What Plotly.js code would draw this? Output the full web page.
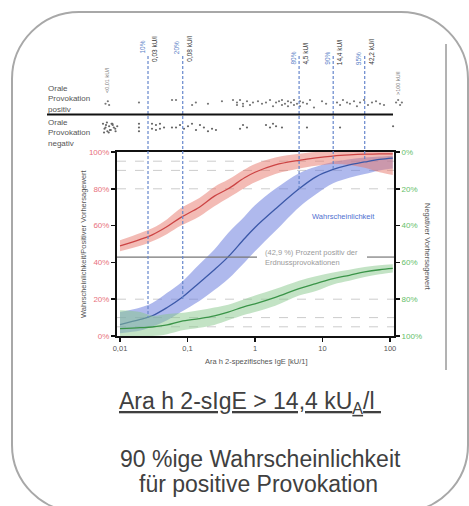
<!DOCTYPE html>
<html><head><meta charset="utf-8">
<script src="https://cdn.plot.ly/plotly-3.0.1.min.js"></script>
<style>
html,body{margin:0;padding:0;background:#fff;width:469px;height:506px;overflow:hidden;}
#frame{position:absolute;left:11px;top:11px;width:458px;height:502px;border:2px solid #a8a8a8;border-radius:68px;box-sizing:border-box;}
#chart{position:absolute;left:0;top:0;width:469px;height:506px;}
</style></head><body>
<div id="frame"></div>
<div id="chart"></div>
<script>
// ---------- data ----------
const igeGrid  = [0.01, 0.02, 0.03, 0.05, 0.08, 0.15, 0.25, 0.4, 0.7, 1, 2, 4.5, 8, 14.4, 25, 42.2, 70, 110];
// positive predictive value (red, left axis)
const ppv      = [0.49, 0.525, 0.55, 0.595, 0.645, 0.70, 0.76, 0.80, 0.86, 0.89, 0.93, 0.955, 0.968, 0.978, 0.984, 0.988, 0.99, 0.99];
const ppvLow   = [0.46, 0.49, 0.515, 0.555, 0.60, 0.65, 0.705, 0.75, 0.805, 0.835, 0.88, 0.91, 0.925, 0.935, 0.93, 0.915, 0.89, 0.875];
const ppvHigh  = [0.52, 0.56, 0.585, 0.635, 0.695, 0.75, 0.81, 0.85, 0.905, 0.935, 0.97, 0.99, 1.0, 1.0, 1.0, 1.0, 1.0, 1.0];
// probability of positive challenge (blue, left axis)
const prob     = [0.062, 0.09, 0.11, 0.155, 0.205, 0.29, 0.36, 0.43, 0.53, 0.59, 0.69, 0.80, 0.865, 0.905, 0.93, 0.946, 0.96, 0.967];
const probLow  = [0.015, 0.03, 0.05, 0.085, 0.13, 0.19, 0.25, 0.31, 0.40, 0.46, 0.57, 0.70, 0.77, 0.83, 0.86, 0.88, 0.90, 0.91];
const probHigh = [0.13, 0.155, 0.18, 0.235, 0.29, 0.39, 0.47, 0.56, 0.65, 0.71, 0.80, 0.885, 0.92, 0.945, 0.96, 0.97, 0.975, 0.98];
// negative predictive value (green, right axis, reversed)
const npv      = [0.96, 0.955, 0.951, 0.94, 0.92, 0.905, 0.89, 0.87, 0.84, 0.825, 0.79, 0.742, 0.715, 0.688, 0.67, 0.652, 0.64, 0.633];
const npvLow   = [0.86, 0.87, 0.89, 0.88, 0.875, 0.86, 0.845, 0.83, 0.80, 0.78, 0.745, 0.70, 0.675, 0.655, 0.64, 0.625, 0.615, 0.61];
const npvHigh  = [1.0, 1.0, 1.0, 0.99, 0.97, 0.955, 0.94, 0.915, 0.885, 0.87, 0.835, 0.78, 0.755, 0.72, 0.70, 0.68, 0.665, 0.655];

// cut-offs (blue curve probability thresholds)
const thresholdIgE      = [0.026, 0.085, 4.5, 14.4, 42.2];
const thresholdProb     = [0.10, 0.20, 0.80, 0.90, 0.95];
const thresholdPctText  = ['10%', '20%', '80%', '90%', '95%'];
const thresholdIgEText  = ['0,03 kU/l', '0,08 kU/l', '4,5 kU/l', '14,4 kU/l', '42,2 kU/l'];

const gridLevels = [0.05, 0.10, 0.20, 0.80, 0.90, 0.95];
const prevalence = 0.429;

const xTickVals = [0.01, 0.1, 1, 10, 100];
const xTickText = ['0,01', '0,1', '1', '10', '100'];
const yTickVals = [0, 0.2, 0.4, 0.6, 0.8, 1];
const yTickText = ['0%', '20%', '40%', '60%', '80%', '100%'];

// individual patients (strip above the chart)
const posX = [0.0061,0.0066,0.0069, 0.0191, 0.059,0.0676, 0.117,0.133,0.201, 0.324,
  0.472,0.541,0.541,0.6,0.664,0.664,0.761,0.843,0.933, 1.107,1.27,1.455,
  1.668,1.848,2.05,2.27,2.51,2.51,2.78,3.08,3.08,3.41,3.78,3.78,4.19,4.64,4.64,
  5.14,5.89, 6.53,7.48,9.83,11.3,
  16.4,18.2,20.1,23.1,25.5,29.3,32.4,36.0,41.2,47.2,54.1,62.1,71.1,81.5,
  123,132,141,150];
const posY = [0.9,1.1,0.8, 1.0, 1.2,1.2, 0.8,1.0,0.9, 1.1,
  1.2,0.8,1.0,1.2,0.9,0.7,1.1,0.8,1.0, 1.1,0.9,1.0,
  1.2,0.7,1.0,1.1,0.8,1.2,0.9,1.1,0.7,1.0,0.8,1.2,0.9,1.1,0.7,
  1.0,0.9, 1.2,0.6,1.1,0.9,
  1.0,0.8,1.2,1.0,0.9,1.1,0.7,1.0,1.2,0.8,1.0,1.1,0.9,0.8,
  1.0,1.2,0.8,1.0];
const negX = [0.0056,0.0059,0.0062,0.0065,0.0069,0.0073,0.0077,0.0081,0.0086,0.0091,0.0058,0.0064,0.0071,0.0078,0.0085,0.0061,0.0068,0.0075,
  0.0191,0.0191,0.0191,
  0.0298,0.0298,0.0341,0.0341,0.0391,0.0391,0.0449,
  0.0589,0.0676,0.0774,0.0887,0.1017,0.1166,0.1336,0.153,0.175,0.201,0.231,0.264,
  0.60,0.664,0.761,
  1.455,1.668,1.848,2.05,2.51,
  5.89,18.2,111];
const negY = [-0.7,-1.1,-0.8,-1.3,-0.9,-1.2,-0.7,-1.0,-1.3,-0.9,-1.4,-0.6,-1.2,-0.8,-1.1,-1.0,-1.4,-0.7,
  -0.7,-1.0,-1.3,
  -0.7,-1.1,-0.8,-1.2,-0.7,-1.1,-1.0,
  -1.0,-1.0,-0.8,-1.1,-0.9,-0.7,-1.2,-0.8,-1.0,-1.3,-1.1,-1.2,
  -1.1,-0.8,-1.0,
  -0.8,-1.0,-0.7,-0.9,-1.0,
  -1.0,-1.0,-0.9];

// ---------- layout helpers ----------
const W = 469, H = 506;
const px = v => v / W;
const py = v => (H - v) / H;
const FONT = '"Liberation Sans", Arial, sans-serif';
const mainX = [px(117), px(394)];
const mainY = [py(336), py(152)];

function band(lo, hi, color, yaxis) {
  return [
    {x: igeGrid, y: lo, type: 'scatter', mode: 'lines', line: {width: 0, shape: 'spline'}, yaxis: yaxis, hoverinfo: 'skip'},
    {x: igeGrid, y: hi, type: 'scatter', mode: 'lines', line: {width: 0, shape: 'spline'}, fill: 'tonexty', fillcolor: color, yaxis: yaxis, hoverinfo: 'skip'}
  ];
}
function curve(y, color, yaxis) {
  return {x: igeGrid, y: y, type: 'scatter', mode: 'lines', line: {color: color, width: 1.3, shape: 'spline'}, yaxis: yaxis};
}

const traces = [
  ...band(npvLow, npvHigh, 'rgba(135,200,140,0.5)', 'y2'),
  ...band(probLow, probHigh, 'rgba(110,128,222,0.55)', 'y'),
  ...band(ppvLow, ppvHigh, 'rgba(232,120,108,0.5)', 'y'),
  curve(npv, '#3a9448', 'y2'),
  curve(prob, '#3b58a8', 'y'),
  curve(ppv, '#cc4444', 'y'),
  {x: posX, y: posY, xaxis: 'x2', yaxis: 'y3', type: 'scatter', mode: 'markers',
   marker: {size: 2.2, color: '#777'}},
  {x: negX, y: negY, xaxis: 'x2', yaxis: 'y3', type: 'scatter', mode: 'markers',
   marker: {size: 2.2, color: '#666'}}
];

const shapes = [];
gridLevels.forEach(l => shapes.push({type: 'line', xref: 'paper', yref: 'y', x0: mainX[0], x1: mainX[1], y0: l, y1: l,
  line: {color: '#cccccc', width: 1, dash: 'dash'}, layer: 'below'}));
shapes.push({type: 'line', xref: 'paper', yref: 'y', x0: mainX[0], x1: px(257), y0: prevalence, y1: prevalence, line: {color: '#777', width: 1.2}});
shapes.push({type: 'line', xref: 'paper', yref: 'y', x0: px(367), x1: mainX[1], y0: prevalence, y1: prevalence, line: {color: '#777', width: 1.2}});
thresholdIgE.forEach((v, i) => shapes.push({type: 'line', xref: 'x', yref: 'paper', x0: v, x1: v,
  y0: py(56), y1: mainY[0] + thresholdProb[i] * (mainY[1] - mainY[0]),
  line: {color: '#6686cc', width: 1.2, dash: '3px,2px'}}));
// separator between positive / negative strip
shapes.push({type: 'line', xref: 'paper', yref: 'paper', x0: px(47), x1: px(393), y0: py(114.5), y1: py(114.5), line: {color: '#111', width: 2}});
// thin border line on the right of the original figure
shapes.push({type: 'line', xref: 'paper', yref: 'paper', x0: px(446), x1: px(446), y0: py(44), y1: py(370), line: {color: '#666', width: 1}});

const ann = [];
thresholdIgE.forEach((v, i) => {
  const left = i < 2;
  ann.push({xref: 'x', yref: 'paper', x: Math.log10(v), xshift: -6, y: py(left ? 56 : 67), yanchor: 'bottom', xanchor: 'center',
    textangle: -90, text: thresholdPctText[i], showarrow: false, font: {family: FONT, size: 6.5, color: '#5b7fc7'}});
  ann.push({xref: 'x', yref: 'paper', x: Math.log10(v), xshift: 6, y: py(left ? 64 : 67), yanchor: 'bottom', xanchor: 'center',
    textangle: -90, text: thresholdIgEText[i], showarrow: false, font: {family: FONT, size: 6.5, color: '#333'}});
});
const smallTxt = (text, x, y, opts) => Object.assign({xref: 'paper', yref: 'paper', x: px(x), y: py(y), text: text, showarrow: false,
  xanchor: 'center', yanchor: 'middle', font: {family: FONT, size: 7.5, color: '#555'}}, opts || {});
ann.push(smallTxt('&lt;0,01 kU/l', 107, 81, {textangle: -90, font: {family: FONT, size: 5.5, color: '#777'}}));
ann.push(smallTxt('&gt;100 kU/l', 398, 84, {textangle: -90, font: {family: FONT, size: 5.5, color: '#777'}}));
ann.push(smallTxt('Orale<br>Provokation<br>positiv', 46, 98.5, {xanchor: 'left', align: 'left', font: {family: FONT, size: 8, color: '#555'}}));
ann.push(smallTxt('Orale<br>Provokation<br>negativ', 46, 132.5, {xanchor: 'left', align: 'left', font: {family: FONT, size: 8, color: '#555'}}));
ann.push(smallTxt('Wahrscheinlichkeit/Positiver Vorhersagewert', 83, 244, {textangle: -90}));
ann.push(smallTxt('Negativer Vorhersagewert', 427, 247, {textangle: 90}));
ann.push(smallTxt('Ara h 2-spezifisches IgE [kU/1]', 256, 361));
ann.push(smallTxt('Wahrscheinlichkeit', 343, 216, {font: {family: FONT, size: 7.5, color: '#5070d0'}}));
ann.push(smallTxt('(42,9 %) Prozent positiv der<br>Erdnussprovokationen', 263, 257, {xanchor: 'left', align: 'left', font: {family: FONT, size: 7.5, color: '#9a9a9a'}}));
const bigFont = {family: FONT, size: 23, color: '#404040'};
ann.push(smallTxt('<u>Ara h 2-sIgE &gt; 14,4 kU<sub>A</sub>/l </u>', 250, 402, {font: bigFont}));
ann.push(smallTxt('90 %ige Wahrscheinlichkeit', 260, 459, {font: bigFont}));
ann.push(smallTxt('für positive Provokation', 258, 484, {font: bigFont}));

const axisCommon = {showline: true, linecolor: '#111', linewidth: 2, ticks: 'outside', ticklen: 4, tickwidth: 1.5,
  tickcolor: '#111', showgrid: false, zeroline: false, fixedrange: true};

const layout = {
  width: W, height: H, margin: {l: 0, r: 0, t: 0, b: 0},
  paper_bgcolor: 'rgba(0,0,0,0)', plot_bgcolor: 'rgba(0,0,0,0)',
  showlegend: false, font: {family: FONT},
  xaxis: Object.assign({}, axisCommon, {type: 'log', domain: mainX, range: [-2.0444, 2.0593], anchor: 'y', mirror: true,
    tickvals: xTickVals, ticktext: xTickText, tickfont: {family: FONT, size: 7.5, color: '#555'}}),
  yaxis: Object.assign({}, axisCommon, {domain: mainY, range: [0, 1], anchor: 'x', mirror: true,
    tickvals: yTickVals, ticktext: yTickText, tickfont: {family: FONT, size: 8, color: '#e8707c'}}),
  yaxis2: Object.assign({}, axisCommon, {overlaying: 'y', side: 'right', anchor: 'x', range: [1, 0],
    tickvals: yTickVals, ticktext: yTickText, tickfont: {family: FONT, size: 8, color: '#66c06a'}}),
  xaxis2: {type: 'log', domain: [px(95), px(415)], range: [-2.3704, 2.3704], anchor: 'y3', visible: false, fixedrange: true},
  yaxis3: {domain: [py(140), py(92)], range: [-2.0, 1.84], anchor: 'x2', visible: false, fixedrange: true},
  shapes: shapes,
  annotations: ann
};

Plotly.newPlot('chart', traces, layout, {displayModeBar: false, staticPlot: true});
</script></body></html>
